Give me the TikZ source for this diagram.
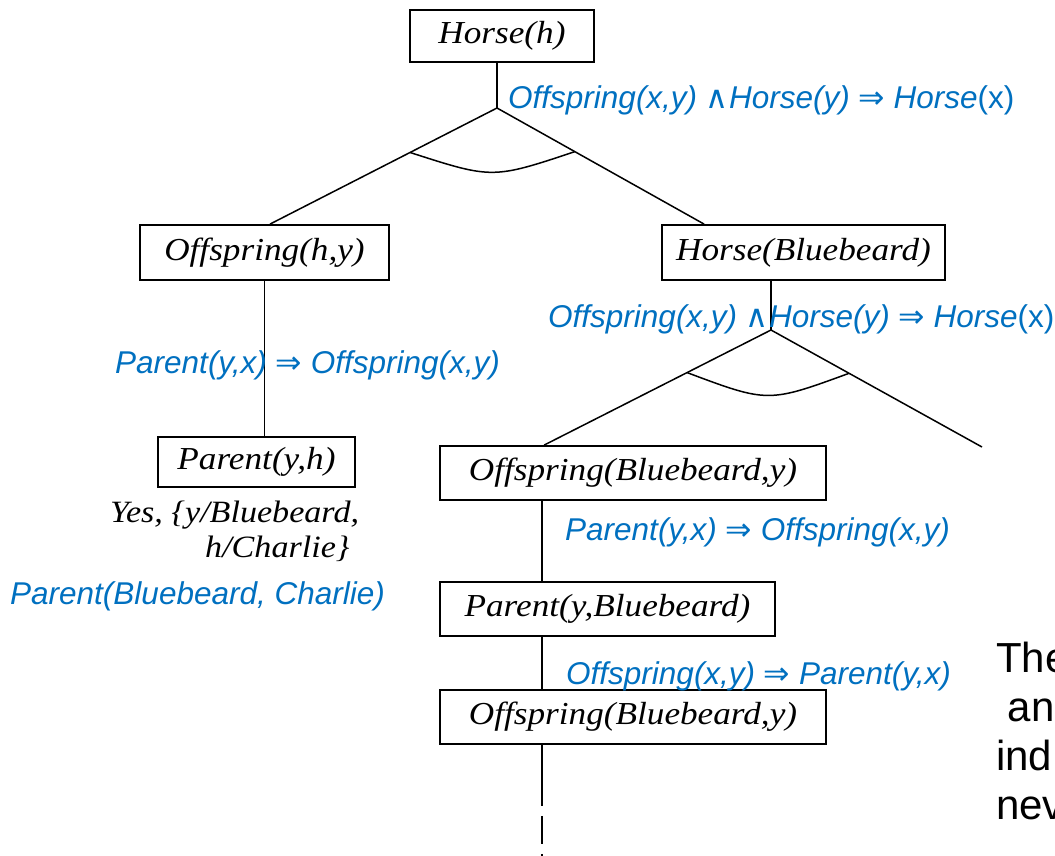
\documentclass[tikz,border=0pt]{standalone}
\usepackage{fontspec}
\setmainfont{Liberation Serif}
\newfontfamily\arialf{Liberation Sans}
\newfontfamily\djv{DejaVu Sans}
\usetikzlibrary{calc}
\definecolor{lblue}{RGB}{0,112,192}
\newcommand\bxt[1]{\scalebox{1.1}[1]{\itshape #1}}
\newcommand\impl{{\upshape\djv ⇒}}
\newcommand\wedgec{{\upshape\djv ∧}}
\begin{document}
\begin{tikzpicture}[x=1pt,y=-1pt,
 box/.style={draw=black, line width=1.8pt, inner sep=0pt, fill=white, font=\fontsize{32}{38}\selectfont},
 serifl/.style={inner sep=0pt, anchor=base west, font=\fontsize{31}{37}\selectfont},
 lbl/.style={text=lblue, font=\arialf\itshape\fontsize{31.5}{38}\selectfont, inner sep=0pt, anchor=base west},
 side/.style={inner sep=0pt, anchor=base west, font=\arialf\fontsize{42}{49}\selectfont},
 edge/.style={line width=1.5pt, draw=black}]
\clip (0,0) rectangle (1055,855);
\fill[white] (0,0) rectangle (1055,855);

% boxes
\node[box, minimum width=184pt, minimum height=52pt] (hh) at (502,36) {\bxt{Horse(h)}};
\node[box, minimum width=249pt, minimum height=55pt] (oh) at (264.5,252.5) {\bxt{Offspring(h,y)}};
\node[box, minimum width=283pt, minimum height=55pt] (hb) at (803.5,252.5) {\bxt{Horse(Bluebeard)}};
\node[box, minimum width=197pt, minimum height=50pt] (pyh) at (256.5,462) {\bxt{Parent(y,h)}};
\node[box, minimum width=386pt, minimum height=54pt] (ob1) at (633,473) {\bxt{Offspring(Bluebeard,y)}};
\node[box, minimum width=335pt, minimum height=54pt] (pb) at (607.5,609) {\bxt{Parent(y,Bluebeard)}};
\node[box, minimum width=386pt, minimum height=54pt] (ob2) at (633,717) {\bxt{Offspring(Bluebeard,y)}};

% top AND node
\coordinate (a1) at (497,108);
\coordinate (t1) at ($(oh.north)+(5.5,0)$);
\coordinate (t2) at ($(hb.north west)+(43,0)$);
\draw[edge] (a1 |- hh.south) -- (a1);
\draw[edge] (t1) -- (a1) -- (t2);
\coordinate (c1l) at ($(a1)!0.383!(t1)$);
\coordinate (c1r) at ($(a1)!0.376!(t2)$);
\draw[edge] (c1l) .. controls ($(c1l)!0.5!(c1r)+(0,27)$) .. (c1r);

% second AND node
\coordinate (a2) at (771,330);
\coordinate (t3) at ($(ob1.north west)+(105,0)$);
\coordinate (t4) at (982,447);
\draw[edge] (a2 |- hb.south) -- (a2);
\draw[edge] (t3) -- (a2) -- (t4);
\coordinate (c2l) at ($(a2)!0.37!(t3)$);
\coordinate (c2r) at ($(a2)!0.37!(t4)$);
\draw[edge] (c2l) .. controls ($(c2l)!0.5!(c2r)+(0,30)$) .. (c2r);

% vertical chains
\draw[edge] (oh.south) -- (oh.south |- pyh.north);
\coordinate (vx) at (542,0);
\draw[edge] (ob1.south -| vx) -- (pb.north -| vx);
\draw[edge] (pb.south -| vx) -- (ob2.north -| vx);
\draw[edge] (ob2.south -| vx) -- ++(0,61) coordinate (d1);
\coordinate (d2) at (542,870);
\draw[edge, dash pattern=on 28pt off 10pt] ($(d1)+(0,10)$) -- (d2);

% blue rule labels
\node[lbl] (l1) at (508,108) {Offspring(x,y) \wedgec Horse(y) \impl{} Horse{\upshape(x)}};
\node[lbl] (l2) at (548,327) {Offspring(x,y) \wedgec Horse(y) \impl{} Horse{\upshape(x)}};
\node[lbl] (l3) at (115,373) {Parent(y,x) \impl{} Offspring(x,y)};
\node[lbl] (l4) at (565,540) {Parent(y,x) \impl{} Offspring(x,y)};
\node[lbl] (l5) at (566,684) {Offspring(x,y) \impl{} Parent(y,x)};
\node[lbl] (l6) at (10,604) {Parent(Bluebeard, Charlie)};

% answer
\node[serifl] (yes1) at (110,522) {\bxt{Yes, \{y/Bluebeard,}};
\node[serifl] (yes2) at (205,557) {\bxt{h/Charlie\}}};

% cut-off side text
\node[side] (rtA) at (996,672) {The};
\node[side] (rtB) at (996,721) {\ an};
\node[side] (rtC) at (996,770) {ind};
\node[side] (rtD) at (996,819) {nev};
\end{tikzpicture}
\end{document}
